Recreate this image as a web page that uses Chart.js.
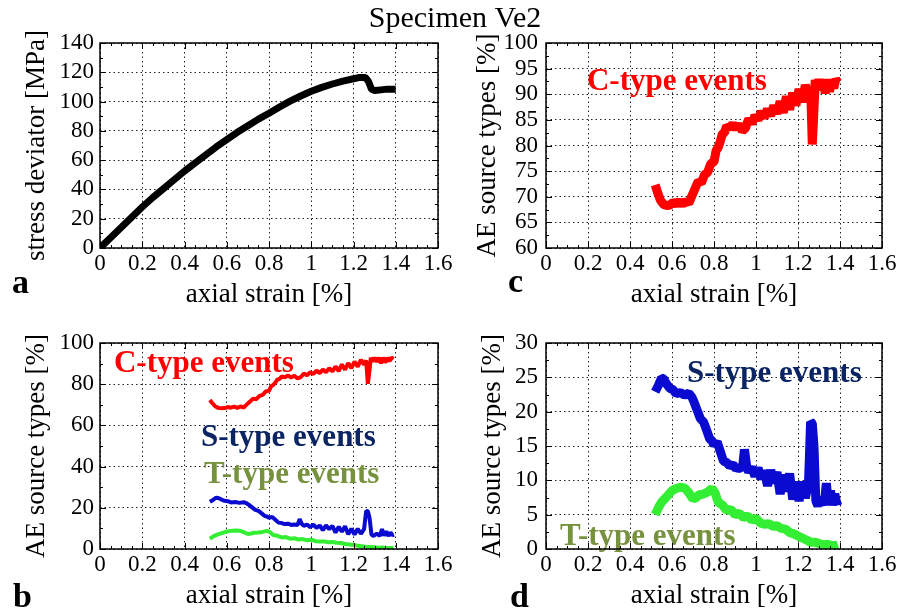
<!DOCTYPE html>
<html>
<head>
<meta charset="utf-8">
<script src="https://cdn.jsdelivr.net/npm/chart.js@4.4.1/dist/chart.umd.min.js"></script>
<style>
  body { margin: 0; background: #fff; }
  #wrap { position: relative; width: 901px; height: 614px; }
  canvas { position: absolute; left: 0; top: 0; }
</style>
</head>
<body>
<div id="wrap">
  <canvas id="chartA" width="901" height="614"></canvas>
  <canvas id="chartC" width="901" height="614"></canvas>
  <canvas id="chartB" width="901" height="614"></canvas>
  <canvas id="chartD" width="901" height="614"></canvas>
</div>
<script>
// tick labels
const xTicks = [0, 0.2, 0.4, 0.6, 0.8, 1, 1.2, 1.4, 1.6];
const stressTicks = [0, 20, 40, 60, 80, 100, 120, 140];
const cTicks = [60, 65, 70, 75, 80, 85, 90, 95, 100];
const bTicks = [0, 20, 40, 60, 80, 100];
const dTicks = [0, 5, 10, 15, 20, 25, 30];

// stress deviator vs axial strain
const stressStrain = [0, 0.05, 0.1, 0.15, 0.2, 0.25, 0.3, 0.35, 0.4, 0.45, 0.5, 0.55, 0.6, 0.65, 0.7, 0.75, 0.8, 0.85, 0.9, 0.95, 1.0, 1.05, 1.1, 1.15, 1.2, 1.23, 1.255, 1.27, 1.285, 1.3, 1.33, 1.36, 1.4];
const stressValues = [0, 7, 14, 21, 28, 34.5, 40.5, 46.5, 52.5, 58, 63.5, 69, 74, 79, 83.5, 88, 92, 96.3, 100.3, 103.8, 107, 109.7, 112, 114, 115.6, 116.5, 116.5, 114, 108.5, 107.5, 108, 108.5, 108.5];

// C-type events [%]
const cStrain = [0.52, 0.53, 0.545, 0.56, 0.575, 0.59, 0.605, 0.62, 0.635, 0.65, 0.665, 0.68, 0.695, 0.71, 0.725, 0.74, 0.755, 0.77, 0.785, 0.80, 0.81, 0.82, 0.83, 0.84, 0.85, 0.86, 0.875, 0.89, 0.905, 0.92, 0.935, 0.95, 0.965, 0.98, 0.995, 1.01, 1.025, 1.04, 1.055, 1.07, 1.085, 1.10, 1.115, 1.13, 1.145, 1.16, 1.175, 1.19, 1.205, 1.22, 1.235, 1.25, 1.26, 1.268, 1.275, 1.282, 1.29, 1.30, 1.31, 1.32, 1.33, 1.34, 1.35, 1.36, 1.37, 1.38, 1.39];
const cValues = [72.3, 71, 69.3, 68.5, 68.3, 68.4, 68.9, 68.6, 69.1, 68.5, 69.2, 68.7, 70.2, 71.6, 73, 72.7, 74.3, 74.8, 76.5, 76.8, 79, 79.6, 80.8, 82.3, 82.5, 83.8, 83.4, 84.2, 83.3, 84.1, 82.8, 83.4, 85.2, 84.3, 85.8, 85, 86.6, 85.4, 87.1, 85.8, 87.8, 86.2, 88.6, 86.4, 89.6, 87, 90.3, 87.8, 91, 88.5, 91.8, 89.5, 91.5, 80.2, 86, 92.8, 91, 92.9, 90.8, 92.9, 90.2, 92.9, 90.5, 92.8, 91.2, 92.9, 92.3];

// S-type events [%]
const sStrain = [0.52, 0.535, 0.55, 0.56, 0.575, 0.59, 0.605, 0.62, 0.64, 0.66, 0.68, 0.695, 0.705, 0.72, 0.735, 0.75, 0.765, 0.78, 0.79, 0.80, 0.815, 0.83, 0.845, 0.86, 0.875, 0.89, 0.905, 0.92, 0.935, 0.945, 0.955, 0.965, 0.98, 0.995, 1.01, 1.025, 1.04, 1.055, 1.07, 1.085, 1.10, 1.115, 1.13, 1.145, 1.16, 1.175, 1.19, 1.205, 1.22, 1.235, 1.25, 1.26, 1.268, 1.276, 1.285, 1.295, 1.31, 1.325, 1.335, 1.345, 1.355, 1.365, 1.375, 1.385, 1.39];
const sValues = [22.9, 23.8, 24.9, 24.8, 24, 23.4, 23.2, 22.6, 22.8, 22.4, 22.7, 22.1, 21.4, 20.2, 19, 18.5, 17.3, 16, 15.8, 15.1, 15.6, 14.2, 12.8, 12.6, 12.1, 12.3, 11.7, 11.9, 11.6, 14.5, 12.2, 11.2, 11.9, 10.6, 11.8, 10.2, 11.4, 9.2, 11.5, 9.6, 11.2, 8, 10.8, 8.4, 11, 7.2, 9.8, 7, 9.8, 7.4, 9.6, 18.5, 18.3, 15, 7, 6.3, 7.5, 6.4, 9.6, 6.5, 8.5, 6.4, 8, 6.6, 7];

// T-type events [%]
const tStrain = [0.52, 0.535, 0.55, 0.565, 0.58, 0.60, 0.62, 0.64, 0.66, 0.68, 0.70, 0.715, 0.73, 0.75, 0.77, 0.79, 0.805, 0.82, 0.84, 0.86, 0.88, 0.90, 0.92, 0.94, 0.96, 0.98, 1.0, 1.02, 1.04, 1.06, 1.08, 1.10, 1.12, 1.14, 1.16, 1.18, 1.20, 1.22, 1.24, 1.26, 1.28, 1.30, 1.32, 1.34, 1.36, 1.38, 1.39];
const tValues = [5.0, 6.0, 6.8, 7.3, 7.8, 8.5, 8.8, 9.0, 8.9, 8.2, 7.3, 7.5, 7.9, 8.0, 8.3, 8.8, 8.2, 6.8, 6.4, 5.6, 5.8, 5.0, 5.2, 4.6, 4.8, 4.2, 4.5, 3.8, 3.6, 3.7, 3.3, 3.4, 3.0, 2.9, 2.4, 2.2, 1.9, 1.6, 1.3, 1.0, 1.0, 0.8, 0.6, 0.7, 0.5, 0.5, 0.6];

const SERIF = '"Liberation Serif", "Times New Roman", serif';
const RED = '#ff0000', BLUE = '#0a0ad0', GREEN = '#33ee33';
const NAVY = '#0b2463', OLIVE = '#77923f';

function pts(xs, ys) {
    return xs.map((x, i) => ({ x: x, y: ys[i] }));
}

function line(xs, ys, color, width) {
    return {
        data: pts(xs, ys),
        borderColor: color,
        borderWidth: width,
        pointRadius: 0,
        tension: 0,
        fill: false,
        borderJoinStyle: 'bevel'
    };
}

// frame, inward minor ticks, in-plot labels, panel letters
const framePlugin = {
    id: 'frame',
    beforeDatasetsDraw(chart, args, opts) {
        const ctx = chart.ctx;
        const { x, y } = chart.scales;
        (opts.labels || []).forEach(l => {
            ctx.save();
            ctx.font = 'bold 31px ' + SERIF;
            ctx.fillStyle = l.color;
            ctx.textBaseline = 'alphabetic';
            ctx.fillText(l.text, x.getPixelForValue(l.x), y.getPixelForValue(l.y));
            ctx.restore();
        });
    },
    afterDraw(chart, args, opts) {
        const ctx = chart.ctx;
        const a = chart.chartArea;
        const { x, y } = chart.scales;
        ctx.save();
        ctx.strokeStyle = '#000';
        ctx.lineWidth = 1;
        ctx.beginPath();
        const nx = Math.round((x.max - x.min) / opts.xMinor);
        for (let i = 0; i <= nx; i++) {
            const px = Math.round(x.getPixelForValue(x.min + i * opts.xMinor)) + 0.5;
            const len = i % 4 === 0 ? 6 : 3;
            ctx.moveTo(px, a.bottom); ctx.lineTo(px, a.bottom - len);
            ctx.moveTo(px, a.top); ctx.lineTo(px, a.top + len);
        }
        const ny = Math.round((y.max - y.min) / opts.yMinor);
        for (let i = 0; i <= ny; i++) {
            const py = Math.round(y.getPixelForValue(y.min + i * opts.yMinor)) + 0.5;
            const len = i % 2 === 0 ? 6 : 3;
            ctx.moveTo(a.left, py); ctx.lineTo(a.left + len, py);
            ctx.moveTo(a.right, py); ctx.lineTo(a.right - len, py);
        }
        ctx.stroke();
        ctx.lineWidth = 1.5;
        ctx.strokeRect(a.left, a.top, a.right - a.left, a.bottom - a.top);

        ctx.fillStyle = '#000';
        ctx.textBaseline = 'alphabetic';
        ctx.textAlign = 'left';
        ctx.font = 'bold 34px ' + SERIF;
        ctx.fillText(opts.letter, opts.letterX, opts.letterY);
        if (opts.title) {
            ctx.font = '30px ' + SERIF;
            ctx.textAlign = 'center';
            ctx.fillText(opts.title, 455, 27);
        }
        ctx.restore();
    }
};

function makeChart(id, cfg) {
    return new Chart(document.getElementById(id), {
        type: 'line',
        data: { datasets: cfg.datasets },
        options: {
            responsive: false,
            animation: false,
            events: [],
            layout: { padding: cfg.padding },
            plugins: {
                legend: { display: false },
                tooltip: { enabled: false },
                frame: cfg.frame
            },
            scales: {
                x: {
                    type: 'linear',
                    min: 0,
                    max: 1.6,
                    afterBuildTicks: s => { s.ticks = xTicks.map(v => ({ value: v })); },
                    afterFit: s => { s.height = cfg.xHeight; },
                    grid: { color: '#222', lineWidth: 1, drawTicks: false },
                    border: { display: false, dash: [1.5, 3] },
                    ticks: {
                        color: '#000', padding: 2, maxRotation: 0, autoSkip: false,
                        font: { family: SERIF, size: 23 },
                        callback: v => String(+v.toFixed(2))
                    },
                    title: {
                        display: true, text: 'axial strain [%]', color: '#000', padding: 0,
                        font: { family: SERIF, size: 27, lineHeight: 1 }
                    }
                },
                y: {
                    type: 'linear',
                    min: cfg.yTicks[0],
                    max: cfg.yTicks[cfg.yTicks.length - 1],
                    afterBuildTicks: s => { s.ticks = cfg.yTicks.map(v => ({ value: v })); },
                    afterFit: s => { s.width = cfg.yWidth; },
                    grid: { color: '#222', lineWidth: 1, drawTicks: false },
                    border: { display: false, dash: [1.5, 3] },
                    ticks: {
                        color: '#000', padding: cfg.yPad, autoSkip: false,
                        font: { family: SERIF, size: 23 },
                        callback: v => String(v)
                    },
                    title: {
                        display: true, text: cfg.yTitle, color: '#000', padding: 0,
                        font: { family: SERIF, size: 27, lineHeight: 1 }
                    }
                }
            }
        },
        plugins: [framePlugin]
    });
}

makeChart('chartA', {
    datasets: [line(stressStrain, stressValues, '#000', 7)],
    padding: { left: 23.5, top: 43, right: 463, bottom: 305.5 },
    xHeight: 60.5, yWidth: 76.5, yPad: 6,
    yTicks: stressTicks,
    yTitle: 'stress deviator [MPa]',
    frame: { xMinor: 0.05, yMinor: 10, letter: 'a', letterX: 12, letterY: 293, title: 'Specimen Ve2' }
});

makeChart('chartC', {
    datasets: [line(cStrain, cValues, RED, 9)],
    padding: { left: 474.5, top: 43, right: 19, bottom: 305.5 },
    xHeight: 60.5, yWidth: 71.5, yPad: 8,
    yTicks: cTicks,
    yTitle: 'AE source types [%]',
    frame: {
        xMinor: 0.05, yMinor: 2.5, letter: 'c', letterX: 508, letterY: 292,
        labels: [{ text: 'C-type events', x: 0.195, y: 90.8, color: RED }]
    }
});

makeChart('chartB', {
    datasets: [
        line(cStrain, cValues, RED, 4),
        line(sStrain, sValues, BLUE, 4),
        line(tStrain, tValues, GREEN, 4)
    ],
    padding: { left: 23.5, top: 343, right: 463, bottom: 4.5 },
    xHeight: 60.5, yWidth: 76.5, yPad: 6,
    yTicks: bTicks,
    yTitle: 'AE source types [%]',
    frame: {
        xMinor: 0.05, yMinor: 10, letter: 'b', letterX: 13, letterY: 607,
        labels: [
            { text: 'C-type events', x: 0.066, y: 85.9, color: RED },
            { text: 'S-type events', x: 0.478, y: 50, color: NAVY },
            { text: 'T-type events', x: 0.492, y: 32, color: OLIVE }
        ]
    }
});

makeChart('chartD', {
    datasets: [
        line(sStrain, sValues, BLUE, 9),
        line(tStrain, tValues, GREEN, 9)
    ],
    padding: { left: 479.5, top: 343, right: 19, bottom: 4.5 },
    xHeight: 60.5, yWidth: 66.5, yPad: 8,
    yTicks: dTicks,
    yTitle: 'AE source types [%]',
    frame: {
        xMinor: 0.05, yMinor: 2.5, letter: 'd', letterX: 510, letterY: 607,
        labels: [
            { text: 'S-type events', x: 0.671, y: 24.3, color: NAVY },
            { text: 'T-type events', x: 0.067, y: 0.58, color: OLIVE }
        ]
    }
});
</script>
</body>
</html>
